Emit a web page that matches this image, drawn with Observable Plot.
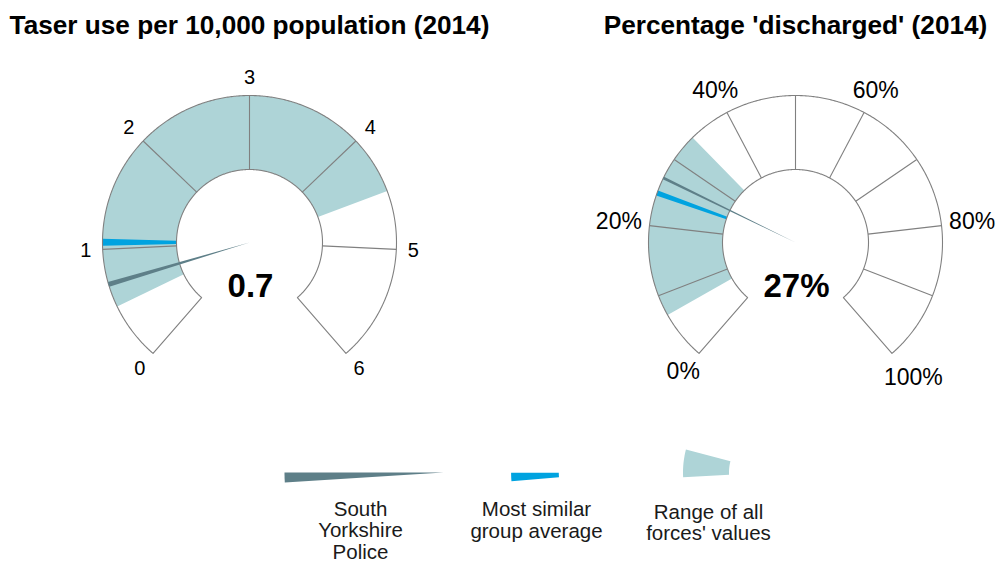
<!DOCTYPE html>
<html>
<head>
<meta charset="utf-8">
<script src="https://cdn.jsdelivr.net/npm/d3@7"></script>
<script src="https://cdn.jsdelivr.net/npm/@observablehq/plot@0.6"></script>
<style>
  html, body { margin: 0; padding: 0; background: #fff; }
  svg { display: block; }
</style>
</head>
<body>
<div id="chart"></div>
<script>
// ---------------- data ----------------
const titles = ["Taser use per 10,000 population (2014)", "Percentage 'discharged' (2014)"];
const taserGrid = [0, 1, 2, 3, 4, 5, 6];
const taserTicks = [0, 1, 2, 3, 4, 5, 6];
const taserTickLabels = ["0", "1", "2", "3", "4", "5", "6"];
const dischargeGrid = [0, 10, 20, 30, 40, 50, 60, 70, 80, 90, 100];
const dischargeTicks = [0, 20, 40, 60, 80, 100];
const dischargeTickLabels = ["0%", "20%", "40%", "60%", "80%", "100%"];
const forceValues = [0.7, 27];          // South Yorkshire Police
const forceLabels = ["0.7", "27%"];
const similarAverages = [1.06, 24.7];   // Most similar group average
const rangeLows = [0.5, 7];             // Range of all forces' values
const rangeHighs = [4.5, 34];
const legendLabels = ["South\nYorkshire\nPolice", "Most similar\ngroup average", "Range of all\nforces' values"];

// ---------------- style / layout ----------------
const C_NEEDLE = "#5e7f88", C_AVG = "#00a3e0", C_RANGE = "#aed4d7", C_LINE = "#808080";
const A0 = -139, A1 = 139, R_OUT = 147, R_IN = 73;
const FONT = "'Liberation Sans', Arial, sans-serif";

const gauges = [
  {title: titles[0], min: 0, max: 6, grid: taserGrid, ticks: taserTicks, tickLabels: taserTickLabels,
   value: forceValues[0], label: forceLabels[0], avg: similarAverages[0], lo: rangeLows[0], hi: rangeHighs[0],
   cx: 249, cy: 242, tickFont: 20, pad: 11, needleDeg: 1.9, avgDeg: 2.7},
  {title: titles[1], min: 0, max: 100, grid: dischargeGrid, ticks: dischargeTicks, tickLabels: dischargeTickLabels,
   value: forceValues[1], label: forceLabels[1], avg: similarAverages[1], lo: rangeLows[1], hi: rangeHighs[1],
   cx: 795, cy: 242, tickFont: 23, pad: 7, needleDeg: 1.1, avgDeg: 2.0}
];

const ctx = document.createElement("canvas").getContext("2d");
const textWidth = (s, fs) => { ctx.font = `${fs}px 'Liberation Sans', Arial, sans-serif`; return ctx.measureText(s).width; };

const rad = d => d * Math.PI / 180;
const pt = (cx, cy, r, th) => ({x: cx + r * Math.sin(rad(th)), y: cy - r * Math.cos(rad(th))});
function arc(cx, cy, r, t0, t1) {
  const n = Math.max(2, Math.ceil(Math.abs(t1 - t0) / 0.5));
  return d3.range(n + 1).map(i => pt(cx, cy, r, t0 + (t1 - t0) * i / n));
}
const band = (cx, cy, r0, r1, t0, t1) => [...arc(cx, cy, r1, t0, t1), ...arc(cx, cy, r0, t1, t0)];
const wedge = (cx, cy, r, t0, t1) => [{x: cx, y: cy}, ...arc(cx, cy, r, t0, t1)];

const poly = (pts, opts) => Plot.line(pts, {x: "x", y: "y", curve: "linear-closed", stroke: "none", ...opts});

const marks = [];
gauges.forEach(g => {
  const ang = d3.scaleLinear().domain([g.min, g.max]).range([A0, A1]);
  const {cx, cy} = g;
  marks.push(poly(band(cx, cy, R_IN, R_OUT, A0, A1), {fill: "#fff"}));
  marks.push(poly(band(cx, cy, R_IN, R_OUT, ang(g.lo), ang(g.hi)), {fill: C_RANGE}));
  const ta = ang(g.avg);
  marks.push(poly(band(cx, cy, R_IN, R_OUT, ta - g.avgDeg / 2, ta + g.avgDeg / 2), {fill: C_AVG}));
  const inner = g.grid.filter(v => v > g.min && v < g.max);
  marks.push(Plot.link(inner, {
    x1: v => pt(cx, cy, R_IN, ang(v)).x, y1: v => pt(cx, cy, R_IN, ang(v)).y,
    x2: v => pt(cx, cy, R_OUT, ang(v)).x, y2: v => pt(cx, cy, R_OUT, ang(v)).y,
    stroke: C_LINE, strokeWidth: 1.1
  }));
  marks.push(poly(band(cx, cy, R_IN, R_OUT, A0, A1), {fill: "none", stroke: C_LINE, strokeWidth: 1.1}));
  const tv = ang(g.value);
  marks.push(poly(wedge(cx, cy, R_OUT, tv - g.needleDeg / 2, tv + g.needleDeg / 2), {fill: C_NEEDLE}));
  const fs = g.tickFont;
  const tl = g.ticks.map((v, i) => {
    const th = ang(v), s = Math.abs(Math.sin(rad(th))), c = Math.abs(Math.cos(rad(th)));
    const hw = textWidth(g.tickLabels[i], fs) / 2;
    const r = R_OUT + g.pad + hw * s + 0.36 * fs * c;
    return {...pt(cx, cy, r, th), label: g.tickLabels[i]};
  });
  marks.push(Plot.text(tl, {x: "x", y: "y", text: "label", fontSize: fs, fill: "#000", textAnchor: "middle", lineAnchor: "middle"}));
  marks.push(Plot.text([g.label], {x: cx + 1, y: cy + 54, text: d => d, fontSize: 33, fontWeight: "bold", fill: "#000", textAnchor: "middle", lineAnchor: "bottom"}));
  marks.push(Plot.text([g.title], {x: cx, y: 33, text: d => d, fontSize: 26.2, fontWeight: "bold", fill: "#000", textAnchor: "middle", lineAnchor: "bottom"}));
});

// legend shapes
marks.push(poly(wedge(443, 472, 159, 266.4, 270), {fill: C_NEEDLE}));
marks.push(poly(band(609.6, 472.3, 51.3, 99, 265.1, 270), {fill: C_AVG}));
marks.push(poly(band(773.5, 472, 45, 91, 267, 284.6), {fill: C_RANGE}));
// legend labels
const legendX = [360, 536, 708], legendY = [500, 500.5, 503];
marks.push(Plot.text(legendLabels, {
  x: (d, i) => legendX[i], y: (d, i) => legendY[i], text: d => d,
  fontSize: 20.5, lineHeight: 1.05, fill: "#1a1a1a", textAnchor: "middle", lineAnchor: "top"
}));

const chart = Plot.plot({
  width: 998, height: 563, margin: 0,
  x: {domain: [0, 998], range: [0, 998], axis: null},
  y: {domain: [0, 563], range: [0, 563], axis: null},
  style: {fontFamily: FONT, background: "#fff", overflow: "visible"},
  marks
});
document.getElementById("chart").appendChild(chart);
</script>
</body>
</html>
